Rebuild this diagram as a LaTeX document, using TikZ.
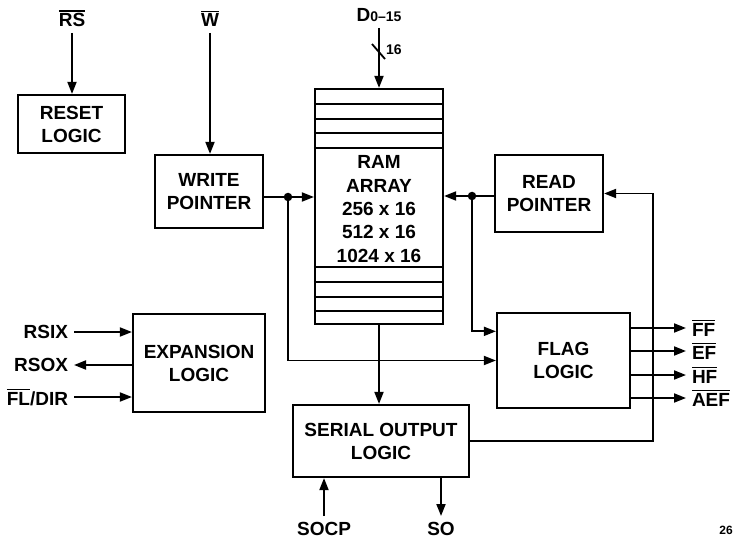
\documentclass[tikz,border=0pt]{standalone}
\usepackage{fontspec}
\setmainfont{Liberation Sans}
\usetikzlibrary{positioning,calc,arrows.meta}

\newcommand{\ovl}[1]{\vbox{\hrule height 1.6pt\kern 1.8pt\hbox{#1}}}

\tikzset{
  blk/.style={draw, line width=2.2pt, align=center, inner sep=0pt,
    font=\bfseries\fontsize{19}{23}\selectfont},
  sig/.style={font=\bfseries\fontsize{19}{23}\selectfont, inner sep=1pt, outer sep=5pt},
  wire/.style={line width=1.8pt},
  arr/.style={wire, -{Triangle[length=12pt,width=9pt]}},
  jdot/.style={circle, fill, inner sep=0pt, minimum size=8.5pt}
}

\begin{document}
\begin{tikzpicture}[x=1pt,y=-1pt]
\useasboundingbox (0,0) rectangle (733,540);

% --- BLOCKS ---
\node[blk, minimum width=107pt, minimum height=58pt] (reset) at (71.5,124) {RESET\\LOGIC};
\node[blk, minimum width=108pt, minimum height=73pt] (write) at (209,191.5) {WRITE\\POINTER};
\node[blk, minimum width=128pt, minimum height=235pt] (ram) at (379,206.5) {};
\node[blk, minimum width=108pt, minimum height=77pt] (read) at (549,193.5) {READ\\POINTER};
\node[blk, minimum width=132pt, minimum height=98pt] (expansion) at (199,363) {EXPANSION\\LOGIC};
\node[blk, minimum width=133pt, minimum height=95pt] (flag) at (563.5,360.5) {FLAG\\LOGIC};
\node[blk, minimum width=176pt, minimum height=72pt] (serial) at (381,441) {SERIAL OUTPUT\\LOGIC};

% --- RAM ARRAY (text and word rows) ---
\node[align=center, font=\bfseries\fontsize{19}{23.3}\selectfont] (ramtxt) at (379,209)
  {RAM\\ARRAY\\256 x 16\\512 x 16\\1024 x 16};
\foreach \y in {104,119,133,148,267,282,297,311}
  \draw[line width=1.5pt] (ram.west |- 0,\y) -- (ram.east |- 0,\y);

% --- TOP SIGNALS ---
\node[sig, anchor=south] (rs) at (72,33) {\ovl{RS}};
\draw[arr] (rs.south) -- (rs.south |- reset.north);
\node[sig, anchor=south] (w) at (210,33) {\ovl{W}};
\draw[arr] (w.south) -- (w.south |- write.north);
\node[sig, anchor=south] (din) at (379,28) {D{\fontsize{14}{14}\selectfont0--15}};
\draw[arr] (din.south) -- (din.south |- ram.north);
\draw[wire] (372,44) -- (385,59);
\node[anchor=west, inner sep=0pt, font=\bfseries\fontsize{14}{14}\selectfont] (bus) at (386,50) {16};

% --- POINTERS TO RAM ---
\node[jdot] (wj) at (288,197) {};
\draw[wire] (write.east |- wj) -- (wj);
\draw[arr] (wj) -- (ram.west |- wj);
\draw[arr] (wj) |- (flag.west);

\node[jdot] (rj) at (472,196) {};
\draw[wire] (read.west |- rj) -- (rj);
\draw[arr] (rj) -- (ram.east |- rj);
\draw[arr] (rj) |- ($(flag.north west)!0.2!(flag.south west)$);

% --- RAM TO SERIAL OUTPUT, LOOP TO READ POINTER ---
\draw[arr] (ram.south) -- (ram.south |- serial.north);
\coordinate (loop) at (653,0);
\draw[arr] (serial.east) -| (loop |- read.east) -- (read.east);

% --- FLAGS ---
\foreach \name/\txt/\y in {ff/FF/328, ef/EF/351, hf/HF/375, aef/AEF/398} {
  \node[sig, anchor=west] (\name) at (686,\y) {\ovl{\txt}};
  \draw[arr] (flag.east |- \name) -- (\name.west);
}

% --- EXPANSION SIGNALS ---
\node[sig, anchor=east] (rsix) at (74,332) {RSIX};
\node[sig, anchor=east] (rsox) at (74,365) {RSOX};
\node[sig, anchor=east] (fldir) at (74,397) {\ovl{FL}/DIR};
\draw[arr] (rsix) -- (expansion.west |- rsix);
\draw[arr] (expansion.west |- rsox) -- (rsox);
\draw[arr] (fldir) -- (expansion.west |- fldir);

% --- SERIAL SIGNALS ---
\node[sig, anchor=north] (socp) at (324,516) {SOCP};
\draw[arr] (socp.north) -- (socp.north |- serial.south);
\node[sig, anchor=north] (so) at (441,516) {SO};
\draw[arr] (so.north |- serial.south) -- (so.north);

\node[font=\bfseries\fontsize{12}{12}\selectfont] (pg) at (726,530) {26};
\end{tikzpicture}
\end{document}
